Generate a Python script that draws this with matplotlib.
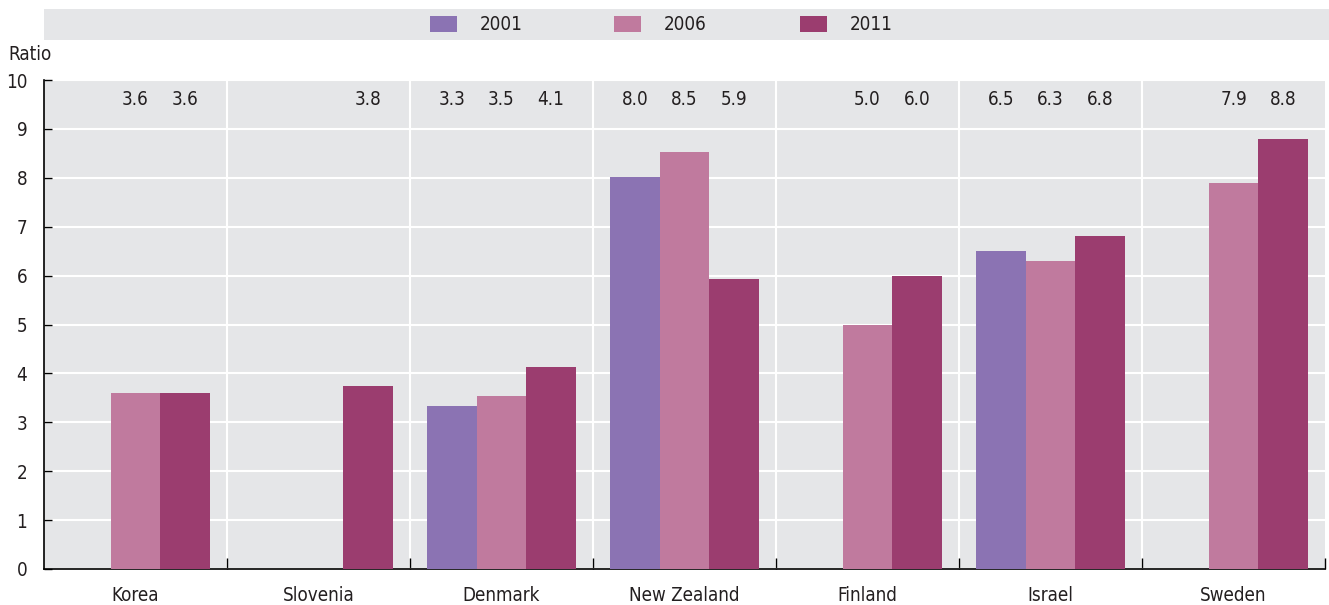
import matplotlib
matplotlib.use("Agg")
import matplotlib.pyplot as plt
from matplotlib.patches import Rectangle
import numpy as np

plt.rcParams['font.family'] = ['DejaVu Sans']
plt.rcParams['font.stretch'] = 'condensed'

countries = ["Korea", "Slovenia", "Denmark", "New Zealand", "Finland", "Israel", "Sweden"]
years = ["2001", "2006", "2011"]
v2001 = [np.nan, np.nan, 3.33, 8.02, np.nan, 6.50, np.nan]
v2006 = [3.60, np.nan, 3.53, 8.52, 5.00, 6.30, 7.90]
v2011 = [3.60, 3.75, 4.14, 5.94, 6.00, 6.80, 8.80]
series = [v2001, v2006, v2011]
colors = ["#8B73B3", "#C07A9E", "#9B3D6F"]
yticks = [0, 1, 2, 3, 4, 5, 6, 7, 8, 9, 10]

W, H = 1329, 605
FS = 13.5
fig = plt.figure(figsize=(W / 100, H / 100), dpi=100)
ax = fig.add_axes([44 / W, (H - 569) / H, (1325 - 44) / W, (569 - 80) / H])
bg = "#E5E6E8"
txt = "#231F20"
ax.set_facecolor(bg)

n = len(countries)
x = np.arange(n)
bw = 0.27
for i, (vals, c) in enumerate(zip(series, colors)):
    off = (i - 1) * bw
    ax.bar(x + off, vals, width=bw, color=c, edgecolor="none", zorder=3)
    for xi, v in zip(x, vals):
        if not np.isnan(v):
            ax.text(xi + off, 9.6, f"{v:.1f}", ha="center", va="center",
                    fontsize=FS, color=txt, zorder=4)

ax.set_xlim(-0.5, n - 0.5)
ax.set_ylim(0, 10)
ax.set_yticks(yticks)
ax.set_yticklabels([str(t) for t in yticks], fontsize=FS, color=txt)
ax.yaxis.grid(True, color="white", linewidth=1.5)
ax.set_axisbelow(True)
for b in np.arange(0.5, n - 0.5, 1):
    ax.axvline(b, color="white", linewidth=1.5, zorder=0.4)
ax.set_xticks(x)
ax.set_xticklabels(countries, fontsize=FS, color=txt)
ax.tick_params(axis="x", length=0, pad=12)
ax.set_xticks(np.arange(0.5, n, 1), minor=True)
ax.tick_params(axis="x", which="minor", direction="in", length=8, width=1, color="black")
ax.tick_params(axis="y", direction="in", length=6, width=1, color="black", pad=12)
for s in ["top", "right"]:
    ax.spines[s].set_visible(False)
for s in ["left", "bottom"]:
    ax.spines[s].set_color("black")
    ax.spines[s].set_linewidth(1.2)

fig.text(8 / W, 1 - 55 / H, "Ratio", fontsize=FS, color=txt, ha="left", va="center")

# legend band
fig.patches.append(Rectangle((44 / W, 1 - 40 / H), 1 - 44 / W, 31 / H,
                             transform=fig.transFigure, facecolor=bg,
                             edgecolor="none", zorder=0))
leg_x = [430, 614, 800]
for lx, yr, c in zip(leg_x, years, colors):
    fig.patches.append(Rectangle((lx / W, 1 - 32 / H), 27 / W, 16 / H,
                                 transform=fig.transFigure, facecolor=c,
                                 edgecolor="none", zorder=1))
    fig.text((lx + 50) / W, 1 - 24.5 / H, yr, fontsize=FS, color=txt,
             ha="left", va="center")

fig.savefig("out.png", dpi=100)
